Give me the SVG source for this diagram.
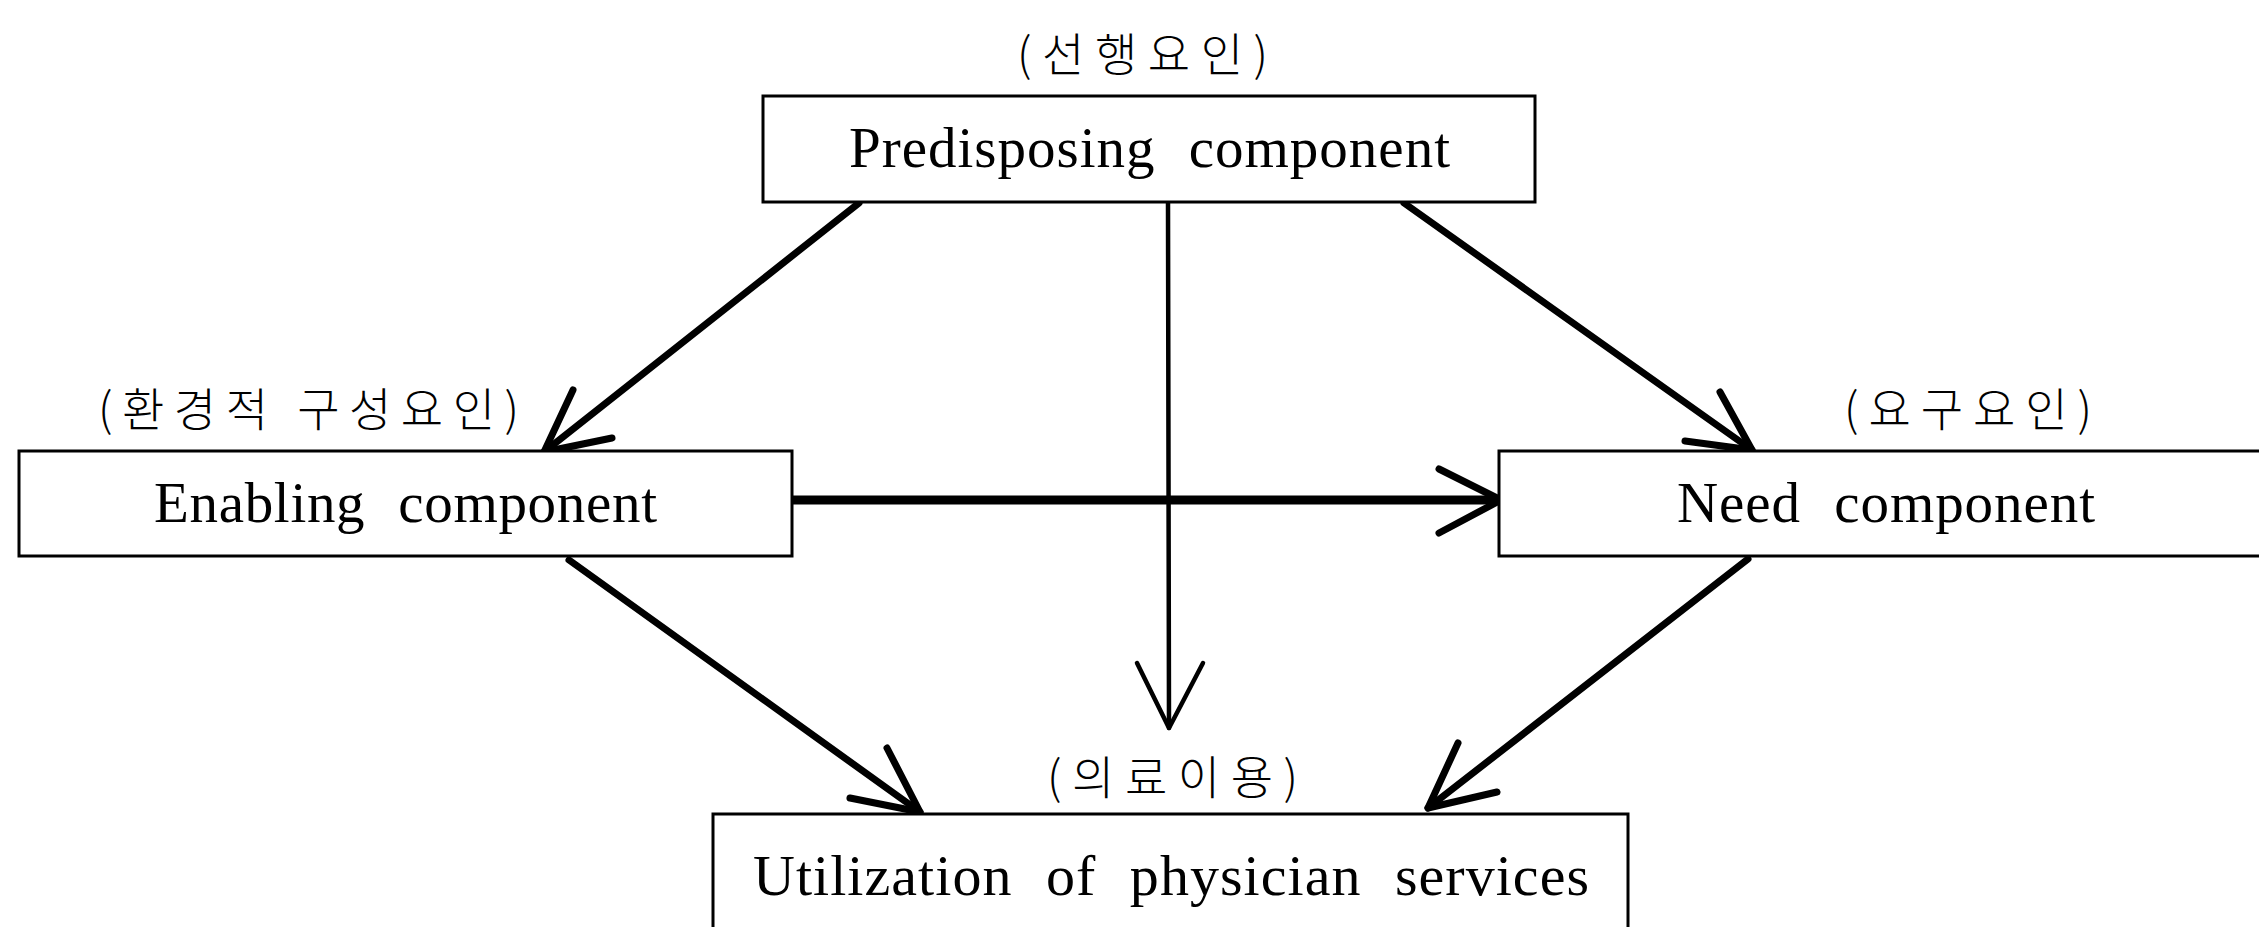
<svg xmlns="http://www.w3.org/2000/svg" width="2259" height="927" viewBox="0 0 2259 927">
<style>
.box{fill:#fff;stroke:#000;stroke-width:3}
.en{font-family:"Liberation Serif","Times New Roman",serif;font-size:57px;fill:#000;word-spacing:18px}
.ko{font-family:"Noto Sans CJK KR","Noto Sans",sans-serif;font-size:46px;font-weight:300;fill:#000}
.ln{fill:none;stroke:#000;stroke-linecap:round;stroke-linejoin:round}
.d{stroke-width:7}
.v{stroke-width:4.5}
.h{stroke-width:9}
</style>
<rect width="2259" height="927" fill="#fff"/>
<g id="connectors">
  <g id="pred-enab">
    <line class="ln d" x1="859" y1="203" x2="544" y2="452"/>
    <polyline class="ln d" points="573,390 544,452 612,438"/>
  </g>
  <g id="pred-need">
    <line class="ln d" x1="1404" y1="203" x2="1752" y2="450"/>
    <polyline class="ln d" points="1720,392 1752,450 1685,441"/>
  </g>
  <g id="pred-util">
    <line class="ln v" x1="1168" y1="202" x2="1169" y2="728"/>
    <polyline class="ln v" points="1137,663 1169,728 1203,663"/>
  </g>
  <g id="enab-need">
    <line class="ln h" x1="793" y1="500" x2="1501" y2="500"/>
    <polyline class="ln d" points="1439,469 1501,500 1439,533"/>
  </g>
  <g id="enab-util">
    <line class="ln d" x1="569" y1="560" x2="920" y2="812"/>
    <polyline class="ln d" points="887,748 920,812 850,798"/>
  </g>
  <g id="need-util">
    <line class="ln d" x1="1748" y1="559" x2="1428" y2="808"/>
    <polyline class="ln d" points="1458,743 1428,808 1497,792"/>
  </g>
</g>
<g id="predisposing">
  <text class="ko" x="1017" y="71" textLength="251">(선행요인)</text>
  <rect class="box" x="763" y="96" width="772" height="106"/>
  <text class="en" x="849" y="167" textLength="601">Predisposing component</text>
</g>
<g id="enabling">
  <text class="ko" x="98" y="426" textLength="421">(환경적 구성요인)</text>
  <rect class="box" x="19" y="451" width="773" height="105"/>
  <text class="en" x="154" y="522" textLength="503">Enabling component</text>
</g>
<g id="need">
  <text class="ko" x="1844" y="426" textLength="248">(요구요인)</text>
  <rect class="box" x="1499" y="451" width="800" height="105"/>
  <text class="en" x="1677" y="522" textLength="418">Need component</text>
</g>
<g id="utilization">
  <text class="ko" x="1047" y="794" textLength="251">(의료이용)</text>
  <rect class="box" x="713" y="814" width="915" height="150"/>
  <text class="en" x="753" y="895" textLength="836" style="font-size:58px">Utilization of physician services</text>
</g>
</svg>
